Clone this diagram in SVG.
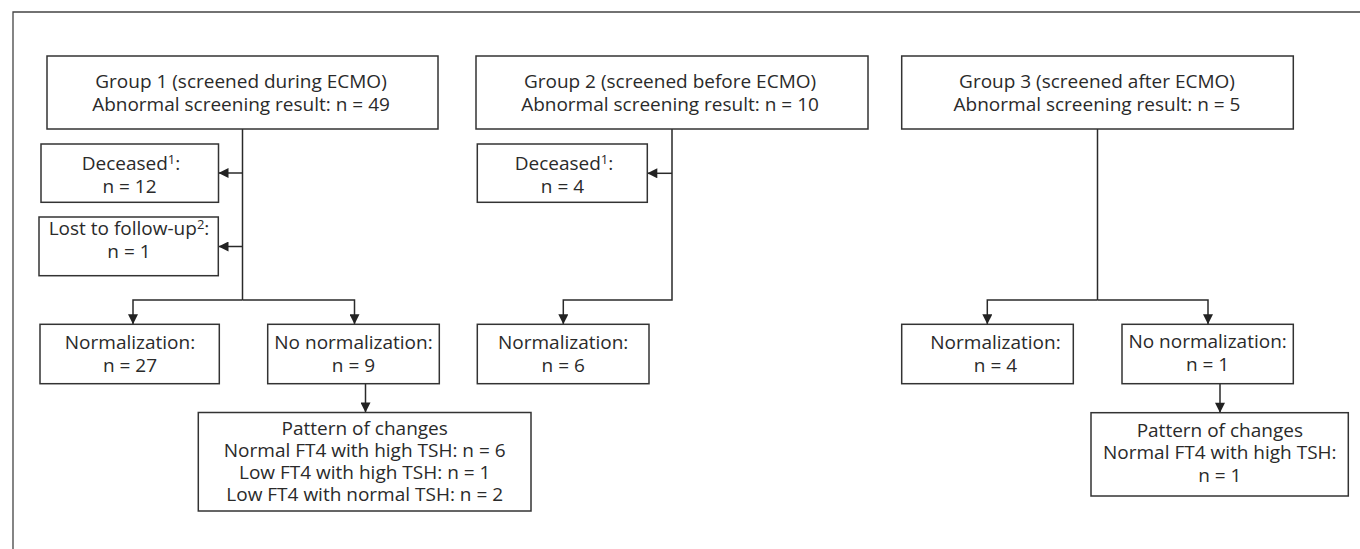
<svg xmlns="http://www.w3.org/2000/svg" width="1360" height="549" viewBox="0 0 1360 549">
<style>
  .box { fill: #ffffff; stroke: #333333; stroke-width: 1.5; }
  .t { font-family: "Open Sans", "Noto Sans", "Liberation Sans", sans-serif; font-size: 19px; fill: #2a2a2a; text-anchor: middle; }
  .sup { font-size: 13px; }
  .ln { fill: none; stroke: #2a2a2a; stroke-width: 1.5; }
  .ar { fill: none; stroke: #2a2a2a; stroke-width: 1.5; marker-end: url(#ah); }
</style>
<defs>
  <marker id="ah" viewBox="0 0 10 10" refX="10" refY="5" markerWidth="11" markerHeight="10" markerUnits="userSpaceOnUse" orient="auto">
    <path d="M0,0 L10,5 L0,10 z" fill="#222222"/>
  </marker>
</defs>
<rect width="1360" height="549" fill="#ffffff"/>
<path d="M13,549 V12 H1360" fill="none" stroke="#444444" stroke-width="1.3"/>

<g id="connectors">
  <path class="ln" d="M242.5,129 V300"/>
  <path class="ar" d="M242.5,173 H218.5"/>
  <path class="ar" d="M242.5,246.5 H218.5"/>
  <path class="ar" d="M242.5,300 H133 V324.3"/>
  <path class="ar" d="M242.5,300 H354.5 V324.3"/>
  <path class="ar" d="M365.5,383.7 V412.5"/>
  <path class="ar" d="M672,129 V300 H563.3 V324.3"/>
  <path class="ar" d="M672,173.3 H647.3"/>
  <path class="ln" d="M1097.5,129 V300"/>
  <path class="ar" d="M1097.5,300 H987.3 V324.3"/>
  <path class="ar" d="M1097.5,300 H1208 V324.3"/>
  <path class="ar" d="M1220,383.7 V412.7"/>
</g>

<g id="group1">
  <rect class="box" x="47" y="56" width="391" height="73"/>
  <text class="t" x="241" y="87.5">Group 1 (screened during ECMO)</text>
  <text class="t" x="241" y="110.5">Abnormal screening result: n = 49</text>
</g>
<g id="deceased1">
  <rect class="box" x="41" y="144" width="177.5" height="58.3"/>
  <text class="t" x="131" y="170">Deceased<tspan class="sup" dy="-6">1</tspan><tspan dy="6">:</tspan></text>
  <text class="t" x="129.5" y="192.7">n = 12</text>
</g>
<g id="lost1">
  <rect class="box" x="39" y="217" width="179.3" height="58.7"/>
  <text class="t" x="129" y="235">Lost to follow-up<tspan class="sup" dy="-6">2</tspan><tspan dy="6">:</tspan></text>
  <text class="t" x="129" y="258.3">n = 1</text>
</g>
<g id="norm1">
  <rect class="box" x="40" y="324.3" width="179.3" height="59.4"/>
  <text class="t" x="130" y="349">Normalization:</text>
  <text class="t" x="130" y="371.7">n = 27</text>
</g>
<g id="nonorm1">
  <rect class="box" x="267.7" y="324.3" width="171.6" height="59.4"/>
  <text class="t" x="353.5" y="349">No normalization:</text>
  <text class="t" x="353.5" y="371.7">n = 9</text>
</g>
<g id="pattern1">
  <rect class="box" x="198.3" y="412.5" width="332.7" height="98.5"/>
  <text class="t" x="364.7" y="434.8">Pattern of changes</text>
  <text class="t" x="364.7" y="456.9">Normal FT4 with high TSH: n = 6</text>
  <text class="t" x="364.7" y="479">Low FT4 with high TSH: n = 1</text>
  <text class="t" x="364.7" y="501.1">Low FT4 with normal TSH: n = 2</text>
</g>

<g id="group2">
  <rect class="box" x="476" y="56" width="392" height="73"/>
  <text class="t" x="670" y="87.5">Group 2 (screened before ECMO)</text>
  <text class="t" x="670" y="110.5">Abnormal screening result: n = 10</text>
</g>
<g id="deceased2">
  <rect class="box" x="477.3" y="144" width="170" height="58.3"/>
  <text class="t" x="564" y="170">Deceased<tspan class="sup" dy="-6">1</tspan><tspan dy="6">:</tspan></text>
  <text class="t" x="562.5" y="192.7">n = 4</text>
</g>
<g id="norm2">
  <rect class="box" x="477.3" y="324.3" width="171.7" height="59.4"/>
  <text class="t" x="563.2" y="349">Normalization:</text>
  <text class="t" x="563.2" y="371.7">n = 6</text>
</g>

<g id="group3">
  <rect class="box" x="901.7" y="56" width="391.6" height="73"/>
  <text class="t" x="1097" y="87.5">Group 3 (screened after ECMO)</text>
  <text class="t" x="1097" y="110.5">Abnormal screening result: n = 5</text>
</g>
<g id="norm3">
  <rect class="box" x="901.7" y="324.3" width="171.6" height="59.4"/>
  <text class="t" x="995.5" y="349">Normalization:</text>
  <text class="t" x="995.5" y="371.7">n = 4</text>
</g>
<g id="nonorm3">
  <rect class="box" x="1122" y="324.3" width="171.3" height="59.4"/>
  <text class="t" x="1207.6" y="348.3">No normalization:</text>
  <text class="t" x="1207.6" y="371">n = 1</text>
</g>
<g id="pattern3">
  <rect class="box" x="1091" y="412.7" width="257.3" height="83.3"/>
  <text class="t" x="1219.8" y="436.7">Pattern of changes</text>
  <text class="t" x="1219.8" y="459.3">Normal FT4 with high TSH:</text>
  <text class="t" x="1219.8" y="481.7">n = 1</text>
</g>
</svg>
